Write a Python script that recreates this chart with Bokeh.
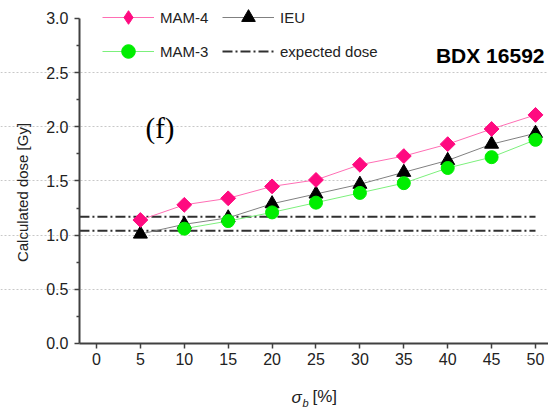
import math
from bokeh.plotting import figure
from bokeh.models import (Range1d, FixedTicker, Legend, LegendItem, Label,
                          CustomJSTickFormatter)
from bokeh.embed import file_html
from bokeh.resources import INLINE

# ---- data ----
sigma = [5, 10, 15, 20, 25, 30, 35, 40, 45, 50]
mam4 = [1.14, 1.28, 1.34, 1.45, 1.51, 1.65, 1.73, 1.84, 1.98, 2.11]
ieu = [1.01, 1.10, 1.16, 1.29, 1.38, 1.47, 1.58, 1.69, 1.84, 1.94]
sigma3 = [10, 15, 20, 25, 30, 35, 40, 45, 50]
mam3 = [1.06, 1.13, 1.21, 1.30, 1.39, 1.48, 1.62, 1.72, 1.88]
expected = [1.04, 1.17]
x_ticks = [0, 5, 10, 15, 20, 25, 30, 35, 40, 45, 50]
y_ticks = [0.0, 0.5, 1.0, 1.5, 2.0, 2.5, 3.0]
y_minor = [0.25, 0.75, 1.25, 1.75, 2.25, 2.75]
grid_ticks = [0.5, 1.0, 1.5, 2.0, 2.5]

PINK = "#FF0A80"
GREEN = "#00EE00"
FONT = "Liberation Sans"

W, H = 548, 412
X_AXIS_AT = -1.94          # where the y axis (left spine) sits in data x
p = figure(width=W, height=H, output_backend="svg", toolbar_location=None,
           x_range=Range1d(-10.93, 51.48), y_range=Range1d(-0.637, 3.166),
           min_border_left=0, min_border_right=0, min_border_top=0,
           min_border_bottom=0)
p.outline_line_color = None
p.background_fill_color = "white"

# axes, drawn inside the frame at fixed positions
for ax in (p.xaxis[0], p.yaxis[0]):
    ax.axis_line_color = "#404040"
    ax.axis_line_width = 2
    ax.major_tick_line_color = "#404040"
    ax.major_tick_line_width = 1.5
    ax.major_tick_in = 0
    ax.major_tick_out = 5
    ax.minor_tick_line_color = "#404040"
    ax.minor_tick_line_width = 1.5
    ax.minor_tick_in = 0
    ax.minor_tick_out = 3
    ax.major_label_text_font = FONT
    ax.major_label_text_font_size = "16px"
    ax.major_label_text_color = "#222222"

p.xaxis.fixed_location = 0
p.xaxis.bounds = (X_AXIS_AT, p.x_range.end)
p.yaxis.fixed_location = X_AXIS_AT
p.yaxis.bounds = (y_ticks[0], y_ticks[-1])
p.xaxis.ticker = FixedTicker(ticks=x_ticks, minor_ticks=[])
p.yaxis.ticker = FixedTicker(ticks=y_ticks, minor_ticks=y_minor)
p.yaxis.formatter = CustomJSTickFormatter(code="return tick.toFixed(1);")
p.xaxis.major_label_standoff = 5
p.yaxis.major_label_standoff = 6

p.xgrid.visible = False
p.ygrid.ticker = FixedTicker(ticks=grid_ticks)
p.ygrid.bounds = (X_AXIS_AT, p.x_range.end)
p.ygrid.grid_line_color = "#c8c8c8"
p.ygrid.grid_line_dash = "2 2"
p.ygrid.grid_line_width = 1

# expected dose lines
dose = p.multi_line(xs=[[X_AXIS_AT, sigma[-1]] for _ in expected],
                    ys=[[v, v] for v in expected],
                    line_color="#303030", line_width=2, line_dash="10 3 2 3")

# series lines
l_ieu = p.line(sigma, ieu, line_color="#808080", line_width=1)
l_m4 = p.line(sigma, mam4, line_color="#FF6EB4", line_width=1)
l_m3 = p.line(sigma3, mam3, line_color="#7CF07C", line_width=1)

s_ieu = p.scatter(sigma, ieu, marker="triangle", size=14,
                  fill_color="black", line_color="black")
s_m3 = p.scatter(sigma3, mam3, marker="circle", size=13,
                 fill_color=GREEN, line_color=GREEN)
# diamond marker (used by the legend), covered by a 45-degree square
s_m4_d = p.scatter(sigma, mam4, marker="diamond", size=13,
                   fill_color=PINK, line_color=PINK)
s_m4 = p.scatter(sigma, mam4, marker="square", size=10.5, angle=math.pi / 4,
                 fill_color=PINK, line_color=PINK)

legend = Legend(items=[
    LegendItem(label="MAM-4", renderers=[l_m4, s_m4_d]),
    LegendItem(label="MAM-3", renderers=[l_m3, s_m3]),
    LegendItem(label="IEU", renderers=[l_ieu, s_ieu]),
    LegendItem(label="expected dose", renderers=[dose]),
], ncols=2, location=(102, 344))
legend.border_line_color = None
legend.background_fill_alpha = 0
legend.label_text_font = FONT
legend.label_text_font_size = "15px"
legend.label_text_color = "#222222"
legend.glyph_width = 52
legend.glyph_height = 34
legend.label_height = 34
legend.label_standoff = 6
legend.label_width = 62
legend.spacing = -5
legend.padding = 0
legend.margin = 0
p.add_layout(legend, "center")

# annotations (screen units from the canvas' bottom-left corner)
p.add_layout(Label(x=544, y=357, x_units="screen", y_units="screen",
                   text="BDX 16592", text_font=FONT, text_font_style="bold",
                   text_font_size="21px", text_align="right",
                   text_baseline="middle", text_color="black"))
p.add_layout(Label(x=145, y=285, x_units="screen", y_units="screen",
                   text="(f)", text_font="Liberation Serif",
                   text_font_size="29px", text_align="left",
                   text_baseline="middle", text_color="black"))
# y-axis label
p.add_layout(Label(x=22, y=220, x_units="screen", y_units="screen",
                   text="Calculated dose [Gy]", text_font=FONT,
                   text_font_size="15px", angle=math.pi / 2,
                   text_align="center", text_baseline="middle",
                   text_color="#222222"))
# x-axis label: sigma_b [%]
p.add_layout(Label(x=291, y=15, x_units="screen", y_units="screen",
                   text="σ", text_font=FONT, text_font_style="italic",
                   text_font_size="17px", text_baseline="middle",
                   text_color="#222222"))
p.add_layout(Label(x=302, y=10, x_units="screen", y_units="screen",
                   text="b", text_font=FONT, text_font_style="italic",
                   text_font_size="11px", text_baseline="middle",
                   text_color="#222222"))
p.add_layout(Label(x=312, y=16, x_units="screen", y_units="screen",
                   text="[%]", text_font=FONT,
                   text_font_size="17px", text_baseline="middle",
                   text_color="#222222"))

open("out.html", "w").write(file_html(p, INLINE))
